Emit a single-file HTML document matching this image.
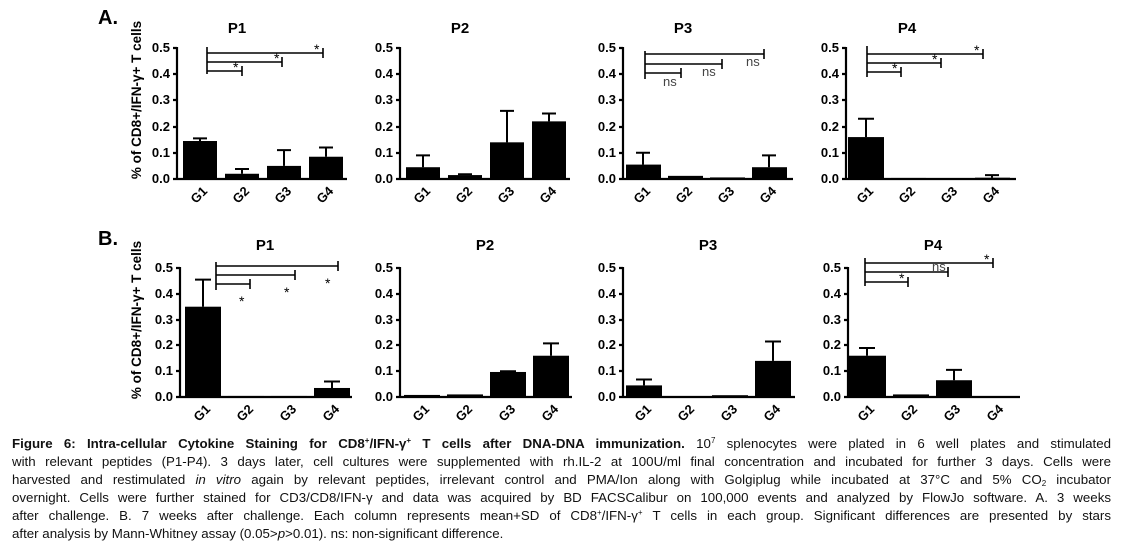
<!DOCTYPE html>
<html><head><meta charset="utf-8"><style>
body{margin:0;background:#fff;width:1124px;height:552px;overflow:hidden;position:relative;font-family:"Liberation Sans",sans-serif}
svg{position:absolute;left:0;top:0}
.cap{position:absolute;left:12px;width:1099px;font-size:13.3px;line-height:18px;color:#111;text-align:justify;text-align-last:justify;white-space:nowrap}
.cap.l{text-align-last:left}
sup{font-size:8px;vertical-align:5px;line-height:0}
sub{font-size:8px;vertical-align:-2px;line-height:0}
</style></head><body>
<svg width="1124" height="430" viewBox="0 0 1124 430" font-family="Liberation Sans, sans-serif">
<defs>
<style>
.b{fill:#000}
.e{stroke:#000;stroke-width:2;vector-effect:non-scaling-stroke;fill:none}
.ax{stroke:#000;stroke-width:2.2;fill:none}
.tl{font-size:13px;font-weight:bold;text-anchor:end}
.gl{font-size:13px;font-weight:bold;text-anchor:middle}
.ti{font-size:15px;font-weight:bold;text-anchor:middle}
.br{stroke:#000;stroke-width:1.6;fill:none}
.st{font-size:14px}
.ns{font-size:13px;fill:#444}
</style>
</defs>
<text x="98" y="24" font-size="20" font-weight="bold">A.</text>
<text x="98" y="245" font-size="20" font-weight="bold">B.</text>
<text transform="translate(141,100) rotate(-90)" font-size="13.5" font-weight="bold" text-anchor="middle">% of CD8+/IFN-γ+ T cells</text>
<text transform="translate(141,320) rotate(-90)" font-size="13.5" font-weight="bold" text-anchor="middle">% of CD8+/IFN-γ+ T cells</text>

<g>
<text class="ti" x="237" y="33">P1</text>
<path class="ax" d="M177,47V179H347M173,48H177M173,74H177M173,100H177M173,127H177M173,153H177M173,179H177"/>
<g class="tl"><text x="170" y="52">0.5</text><text x="170" y="78">0.4</text><text x="170" y="104">0.3</text><text x="170" y="131">0.2</text><text x="170" y="157">0.1</text><text x="170" y="183">0.0</text></g>
<g transform="translate(177,179) scale(1,-262)">
<rect class="b" x="6" y="0" width="34" height=".145"/><path class="e" d="M23,.145V.155M16,.155H30"/>
<rect class="b" x="48" y="0" width="34" height=".02"/><path class="e" d="M65,.02V.038M58,.038H72"/>
<rect class="b" x="90" y="0" width="34" height=".05"/><path class="e" d="M107,.05V.11M100,.11H114"/>
<rect class="b" x="132" y="0" width="34" height=".085"/><path class="e" d="M149,.085V.12M142,.12H156"/>
</g>
<path class="br" d="M207,47V74M207,53H323M323,48V58M207,62H282M282,57V67M207,71H242M242,66V76"/>
<text class="st" x="314" y="54">*</text><text class="st" x="274" y="63">*</text><text class="st" x="233" y="72">*</text>
</g>

<g>
<text class="ti" x="460" y="33">P2</text>
<path class="ax" d="M400,47V179H570M396,48H400M396,74H400M396,100H400M396,127H400M396,153H400M396,179H400"/>
<g class="tl"><text x="393" y="52">0.5</text><text x="393" y="78">0.4</text><text x="393" y="104">0.3</text><text x="393" y="131">0.2</text><text x="393" y="157">0.1</text><text x="393" y="183">0.0</text></g>
<g transform="translate(400,179) scale(1,-262)">
<rect class="b" x="6" y="0" width="34" height=".045"/><path class="e" d="M23,.045V.09M16,.09H30"/>
<rect class="b" x="48" y="0" width="34" height=".015"/><path class="e" d="M65,.015V.018M58,.018H72"/>
<rect class="b" x="90" y="0" width="34" height=".14"/><path class="e" d="M107,.14V.26M100,.26H114"/>
<rect class="b" x="132" y="0" width="34" height=".22"/><path class="e" d="M149,.22V.25M142,.25H156"/>
</g>
</g>

<g>
<text class="ti" x="683" y="33">P3</text>
<path class="ax" d="M623,47V179H793M619,48H623M619,74H623M619,100H623M619,127H623M619,153H623M619,179H623"/>
<g class="tl"><text x="616" y="52">0.5</text><text x="616" y="78">0.4</text><text x="616" y="104">0.3</text><text x="616" y="131">0.2</text><text x="616" y="157">0.1</text><text x="616" y="183">0.0</text></g>
<g transform="translate(623,179) scale(1,-262)">
<rect class="b" x="3" y="0" width="35" height=".055"/><path class="e" d="M20,.055V.1M13,.1H27"/>
<rect class="b" x="45" y="0" width="35" height=".012"/>
<rect class="b" x="87" y="0" width="35" height=".006"/>
<rect class="b" x="129" y="0" width="35" height=".045"/><path class="e" d="M146,.045V.09M139,.09H153"/>
</g>
<path class="br" d="M645,51V79M645,54H764M764,49V59M645,64H722M722,59V69M645,73H681M681,68V78"/>
<text class="ns" x="746" y="66">ns</text><text class="ns" x="702" y="76">ns</text><text class="ns" x="663" y="86">ns</text>
</g>

<g>
<text class="ti" x="907" y="33">P4</text>
<path class="ax" d="M846,47V179H1016M842,48H846M842,74H846M842,100H846M842,127H846M842,153H846M842,179H846"/>
<g class="tl"><text x="839" y="52">0.5</text><text x="839" y="78">0.4</text><text x="839" y="104">0.3</text><text x="839" y="131">0.2</text><text x="839" y="157">0.1</text><text x="839" y="183">0.0</text></g>
<g transform="translate(846,179) scale(1,-262)">
<rect class="b" x="2" y="0" width="36" height=".16"/><path class="e" d="M20,.16V.23M12,.23H28"/>
<rect class="b" x="45" y="0" width="35" height=".004"/>
<rect class="b" x="87" y="0" width="35" height=".003"/>
<rect class="b" x="129" y="0" width="35" height=".005"/><path class="e" d="M146,.005V.015M139,.015H153"/>
</g>
<path class="br" d="M867,46V77M867,54H983M983,49V59M867,63H941M941,58V68M867,72H901M901,67V77"/>
<text class="st" x="974" y="55">*</text><text class="st" x="932" y="64">*</text><text class="st" x="892" y="73">*</text>
</g>

<g class="gl">
<text transform="translate(202,198) rotate(-45)">G1</text><text transform="translate(244,198) rotate(-45)">G2</text><text transform="translate(286,198) rotate(-45)">G3</text><text transform="translate(328,198) rotate(-45)">G4</text>
<text transform="translate(425,198) rotate(-45)">G1</text><text transform="translate(467,198) rotate(-45)">G2</text><text transform="translate(509,198) rotate(-45)">G3</text><text transform="translate(551,198) rotate(-45)">G4</text>
<text transform="translate(645,198) rotate(-45)">G1</text><text transform="translate(687,198) rotate(-45)">G2</text><text transform="translate(729,198) rotate(-45)">G3</text><text transform="translate(771,198) rotate(-45)">G4</text>
<text transform="translate(868,198) rotate(-45)">G1</text><text transform="translate(910,198) rotate(-45)">G2</text><text transform="translate(952,198) rotate(-45)">G3</text><text transform="translate(994,198) rotate(-45)">G4</text>
</g>

<g>
<text class="ti" x="265" y="250">P1</text>
<path class="ax" d="M180,267V397H352M176,268H180M176,294H180M176,320H180M176,345H180M176,371H180M176,397H180"/>
<g class="tl"><text x="173" y="272">0.5</text><text x="173" y="298">0.4</text><text x="173" y="324">0.3</text><text x="173" y="349">0.2</text><text x="173" y="375">0.1</text><text x="173" y="401">0.0</text></g>
<g transform="translate(180,397) scale(1,-258)">
<rect class="b" x="5" y="0" width="36" height=".35"/><path class="e" d="M23,.35V.455M15,.455H31"/>
<rect class="b" x="48" y="0" width="36" height=".004"/>
<rect class="b" x="91" y="0" width="36" height=".004"/>
<rect class="b" x="134" y="0" width="36" height=".035"/><path class="e" d="M152,.035V.06M144,.06H160"/>
</g>
<path class="br" d="M216,262V290M216,266H338M338,261V271M216,275H295M295,270V280M216,284H250M250,279V289"/>
<text class="st" x="325" y="288">*</text><text class="st" x="284" y="297">*</text><text class="st" x="239" y="306">*</text>
</g>

<g>
<text class="ti" x="485" y="250">P2</text>
<path class="ax" d="M400,267V397H572M396,268H400M396,294H400M396,320H400M396,345H400M396,371H400M396,397H400"/>
<g class="tl"><text x="393" y="272">0.5</text><text x="393" y="298">0.4</text><text x="393" y="324">0.3</text><text x="393" y="349">0.2</text><text x="393" y="375">0.1</text><text x="393" y="401">0.0</text></g>
<g transform="translate(400,397) scale(1,-258)">
<rect class="b" x="4" y="0" width="36" height=".008"/>
<rect class="b" x="47" y="0" width="36" height=".01"/>
<rect class="b" x="90" y="0" width="36" height=".097"/><path class="e" d="M108,.097V.1M100,.1H116"/>
<rect class="b" x="133" y="0" width="36" height=".16"/><path class="e" d="M151,.16V.208M143,.208H159"/>
</g>
</g>

<g>
<text class="ti" x="708" y="250">P3</text>
<path class="ax" d="M623,267V397H795M619,268H623M619,294H623M619,320H623M619,345H623M619,371H623M619,397H623"/>
<g class="tl"><text x="616" y="272">0.5</text><text x="616" y="298">0.4</text><text x="616" y="324">0.3</text><text x="616" y="349">0.2</text><text x="616" y="375">0.1</text><text x="616" y="401">0.0</text></g>
<g transform="translate(623,397) scale(1,-258)">
<rect class="b" x="3" y="0" width="36" height=".045"/><path class="e" d="M21,.045V.068M13,.068H29"/>
<rect class="b" x="46" y="0" width="36" height=".003"/>
<rect class="b" x="89" y="0" width="36" height=".007"/>
<rect class="b" x="132" y="0" width="36" height=".14"/><path class="e" d="M150,.14V.215M142,.215H158"/>
</g>
</g>

<g>
<text class="ti" x="933" y="250">P4</text>
<path class="ax" d="M848,267V397H1020M844,268H848M844,294H848M844,320H848M844,345H848M844,371H848M844,397H848"/>
<g class="tl"><text x="841" y="272">0.5</text><text x="841" y="298">0.4</text><text x="841" y="324">0.3</text><text x="841" y="349">0.2</text><text x="841" y="375">0.1</text><text x="841" y="401">0.0</text></g>
<g transform="translate(848,397) scale(1,-258)">
<rect class="b" x="1" y="0" width="37" height=".16"/><path class="e" d="M19,.16V.19M11,.19H27"/>
<rect class="b" x="45" y="0" width="36" height=".01"/>
<rect class="b" x="88" y="0" width="36" height=".065"/><path class="e" d="M106,.065V.105M98,.105H114"/>
<rect class="b" x="131" y="0" width="36" height=".003"/>
</g>
<path class="br" d="M865,258V286M865,263H993M993,258V268M865,272H948M948,267V277M865,282H908M908,277V287"/>
<text class="st" x="984" y="264">*</text><text class="ns" x="932" y="271">ns</text><text class="st" x="899" y="283">*</text>
</g>

<g class="gl">
<text transform="translate(205,416) rotate(-45)">G1</text><text transform="translate(248,416) rotate(-45)">G2</text><text transform="translate(291,416) rotate(-45)">G3</text><text transform="translate(334,416) rotate(-45)">G4</text>
<text transform="translate(424,416) rotate(-45)">G1</text><text transform="translate(467,416) rotate(-45)">G2</text><text transform="translate(510,416) rotate(-45)">G3</text><text transform="translate(553,416) rotate(-45)">G4</text>
<text transform="translate(646,416) rotate(-45)">G1</text><text transform="translate(689,416) rotate(-45)">G2</text><text transform="translate(732,416) rotate(-45)">G3</text><text transform="translate(775,416) rotate(-45)">G4</text>
<text transform="translate(869,416) rotate(-45)">G1</text><text transform="translate(912,416) rotate(-45)">G2</text><text transform="translate(955,416) rotate(-45)">G3</text><text transform="translate(998,416) rotate(-45)">G4</text>
</g>
</svg>

<div class="cap" style="top:435px"><b>Figure 6: Intra-cellular Cytokine Staining for CD8<sup>+</sup>/IFN-γ<sup>+</sup> T cells after DNA-DNA immunization.</b> 10<sup>7</sup> splenocytes were plated in 6 well plates and stimulated</div>
<div class="cap" style="top:453px">with relevant peptides (P1-P4). 3 days later, cell cultures were supplemented with rh.IL-2 at 100U/ml final concentration and incubated for further 3 days. Cells were</div>
<div class="cap" style="top:471px">harvested and restimulated <i>in vitro</i> again by relevant peptides, irrelevant control and PMA/Ion along with Golgiplug while incubated at 37°C and 5% CO<sub>2</sub> incubator</div>
<div class="cap" style="top:489px">overnight. Cells were further stained for CD3/CD8/IFN-γ and data was acquired by BD FACSCalibur on 100,000 events and analyzed by FlowJo software. A. 3 weeks</div>
<div class="cap" style="top:507px">after challenge. B. 7 weeks after challenge. Each column represents mean+SD of CD8<sup>+</sup>/IFN-γ<sup>+</sup> T cells in each group. Significant differences are presented by stars</div>
<div class="cap l" style="top:525px">after analysis by Mann-Whitney assay (0.05&gt;<i>p</i>&gt;0.01). ns: non-significant difference.</div>
</body></html>
